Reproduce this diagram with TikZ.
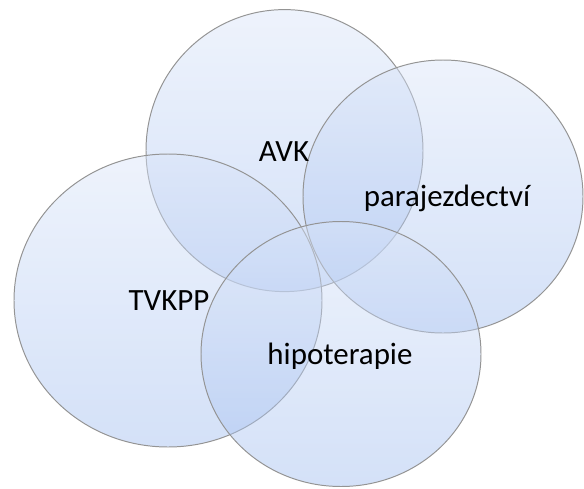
\documentclass[tikz,border=0pt]{standalone}
\usepackage{fontspec}
\setmainfont{Carlito}
\usepackage{xcolor}
\definecolor{ringtop}{RGB}{217,228,248}
\definecolor{ringbot}{RGB}{159,188,239}

\begin{document}
\begin{tikzpicture}[x=0.25mm, y=-0.25mm,
  ring/.style={draw=black!42, line width=0.7pt, top color=ringtop, bottom color=ringbot, fill opacity=0.45},
  lbl/.style={font=\fontsize{22}{26}\selectfont, inner sep=0}]
\useasboundingbox (0,0) rectangle (584,488);
% the four rings
\path[ring] (284.5,150.6) ellipse [x radius=138.5, y radius=141];
\path[ring] (443,196.5)   ellipse [x radius=140,   y radius=136.5];
\path[ring] (168,300.5)   ellipse [x radius=154,   y radius=146.5];
\path[ring] (341,354)     ellipse [x radius=140,   y radius=132.5];
% labels
\node[lbl] (avk)  at (284,152) {AVK};
\node[lbl] (para) at (447,198) {parajezdectví};
\node[lbl] (tvk)  at (169,301) {TVKPP};
\node[lbl] (hipo) at (340,356) {hipoterapie};
\end{tikzpicture}
\end{document}
